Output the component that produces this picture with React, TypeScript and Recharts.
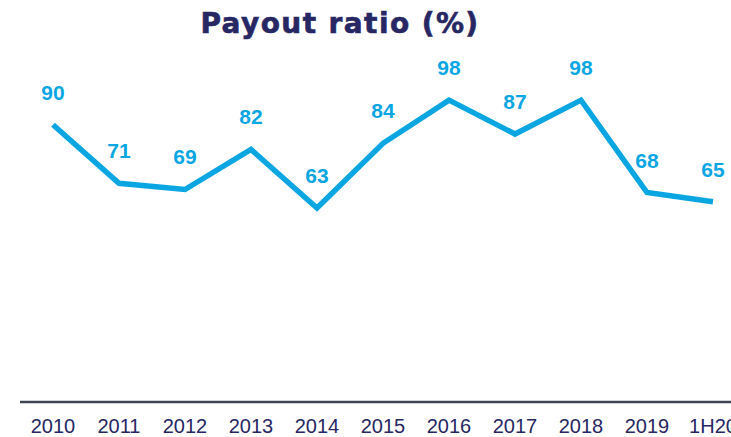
import { LineChart, Line, XAxis, YAxis, LabelList } from 'recharts';

const years = ['2010', '2011', '2012', '2013', '2014', '2015', '2016', '2017', '2018', '2019', '1H20'];
const payout = [90, 71, 69, 82, 63, 84, 98, 87, 98, 68, 65];

const data = years.map((year, i) => ({ year, payout: payout[i] }));

const BLUE = '#0aa6e2';
const NAVY = '#272763';

export default function App() {
  return (
    <div style={{ position: 'absolute', left: 0, top: 0, width: 731, height: 437, overflow: 'hidden', background: '#fff' }}>
      <div
        style={{
          position: 'absolute',
          left: 0,
          top: 4,
          width: 680,
          textAlign: 'center',
          fontFamily: 'DejaVu Sans, sans-serif',
          fontWeight: 700,
          fontSize: 28,
          lineHeight: '40px',
          letterSpacing: 1.4,
          color: NAVY,
          WebkitTextStroke: `0.6px ${NAVY}`,
        }}
      >
        Payout ratio (%)
      </div>
      <LineChart width={731} height={437} data={data} margin={{ top: 94, right: 0, left: 20, bottom: 0 }}>
        <XAxis
          dataKey="year"
          height={35}
          padding={{ left: 33, right: 18 }}
          tickLine={false}
          axisLine={{ stroke: '#3c4450', strokeWidth: 2.5 }}
          tickMargin={11}
          tick={{ fill: NAVY, fontSize: 20, fontFamily: 'Liberation Sans, Arial, sans-serif' }}
          interval={0}
        />
        <YAxis hide domain={[0, 100]} />
        <Line
          type="linear"
          dataKey="payout"
          stroke={BLUE}
          strokeWidth={5.5}
          dot={false}
          isAnimationActive={false}
        >
          <LabelList
            dataKey="payout"
            position="top"
            offset={25}
            fill={BLUE}
            fontSize={21}
            fontWeight={700}
            fontFamily="Liberation Sans, Arial, sans-serif"
          />
        </Line>
      </LineChart>
    </div>
  );
}
